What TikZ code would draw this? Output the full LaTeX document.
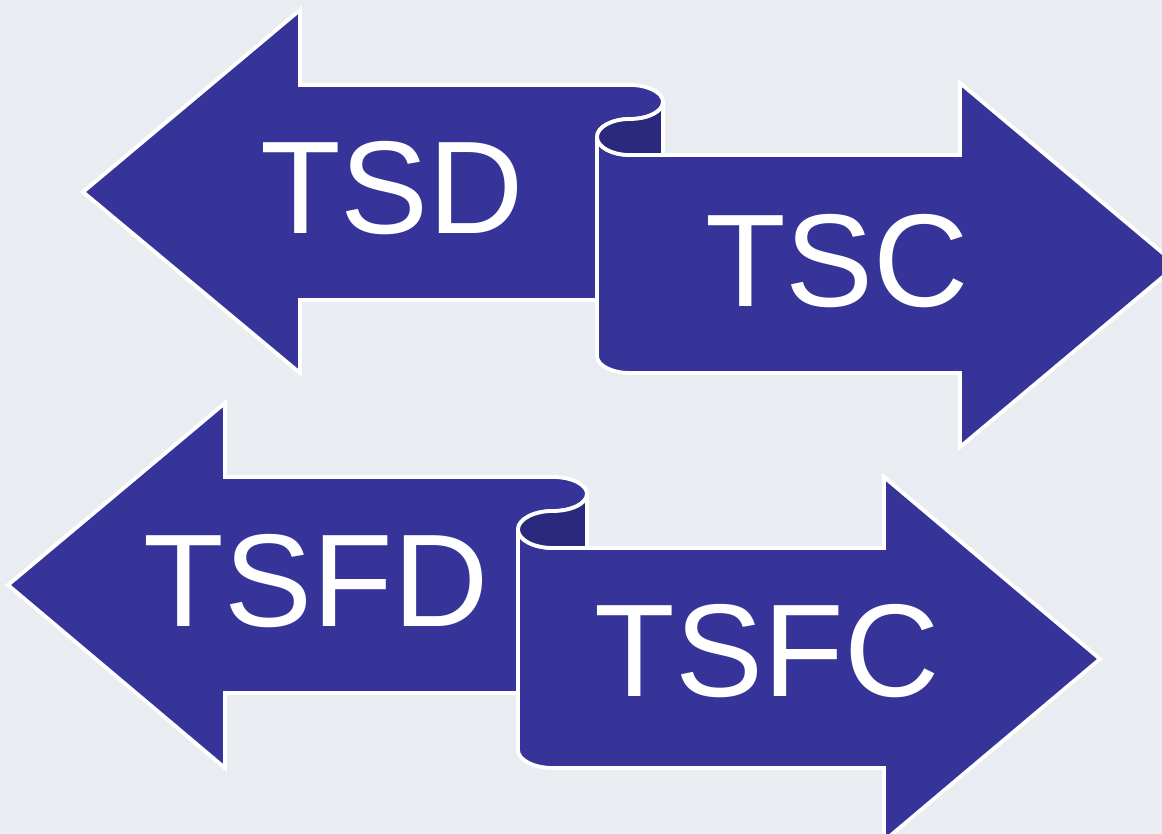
\documentclass[tikz,border=0pt]{standalone}
\usepackage{fontspec}
\setmainfont{Liberation Sans}
\definecolor{bg}{RGB}{233,237,241}
\definecolor{arrowfill}{RGB}{54,52,152}
\definecolor{curlfill}{RGB}{42,41,125}
\tikzset{
  arrowshape/.style={fill=arrowfill, draw=white, line width=3.8pt, line join=miter},
  curlshape/.style={fill=curlfill, draw=white, line width=3.8pt},
  label/.style={text=white, inner sep=0pt, font=\fontsize{132}{132}\selectfont}
}
\begin{document}
\begin{tikzpicture}[x=1pt,y=-1pt]
\useasboundingbox[fill=bg] (0,0) rectangle (1162,834);
% ---------- top pair ----------
\draw[arrowshape] (83,192) -- (300,10) -- (300,85) -- (630,85)
  arc[start angle=90, end angle=-90, x radius=33pt, y radius=17pt]
  arc[start angle=90, end angle=180, x radius=33pt, y radius=18pt]
  -- (597,300) -- (300,300) -- (300,373) -- cycle;
\draw[arrowshape] (597,137) -- (597,356)
  arc[start angle=180, end angle=270, x radius=33pt, y radius=17pt]
  -- (960,373) -- (960,447) -- (1177,265) -- (960,83) -- (960,155) -- (630,155)
  arc[start angle=-90, end angle=-180, x radius=33pt, y radius=18pt] -- cycle;
\draw[curlshape] (663,102) -- (663,155) -- (630,155)
  arc[start angle=-90, end angle=-180, x radius=33pt, y radius=18pt]
  arc[start angle=180, end angle=90, x radius=33pt, y radius=18pt]
  arc[start angle=-90, end angle=0, x radius=33pt, y radius=17pt] -- cycle;
\node[label] (tsd) at (392,188) {TSD};
\node[label] (tsc) at (837,261) {TSC};
% ---------- bottom pair ----------
\draw[arrowshape] (8,585) -- (225,403) -- (225,477) -- (553,477)
  arc[start angle=90, end angle=-90, x radius=34pt, y radius=17pt]
  arc[start angle=90, end angle=180, x radius=35pt, y radius=18.5pt]
  -- (518,693) -- (225,693) -- (225,768) -- cycle;
\draw[arrowshape] (518,529.5) -- (518,750)
  arc[start angle=180, end angle=270, x radius=35pt, y radius=18pt]
  -- (884,768) -- (884,841) -- (1100,659) -- (884,477) -- (884,548) -- (553,548)
  arc[start angle=-90, end angle=-180, x radius=35pt, y radius=18.5pt] -- cycle;
\draw[curlshape] (587,494) -- (587,548) -- (553,548)
  arc[start angle=-90, end angle=-180, x radius=35pt, y radius=18.5pt]
  arc[start angle=180, end angle=90, x radius=35pt, y radius=18.5pt]
  arc[start angle=-90, end angle=0, x radius=34pt, y radius=17pt] -- cycle;
\node[label] (tsfd) at (316,581) {TSFD};
\node[label] (tsfc) at (767,651) {TSFC};
\end{tikzpicture}
\end{document}
